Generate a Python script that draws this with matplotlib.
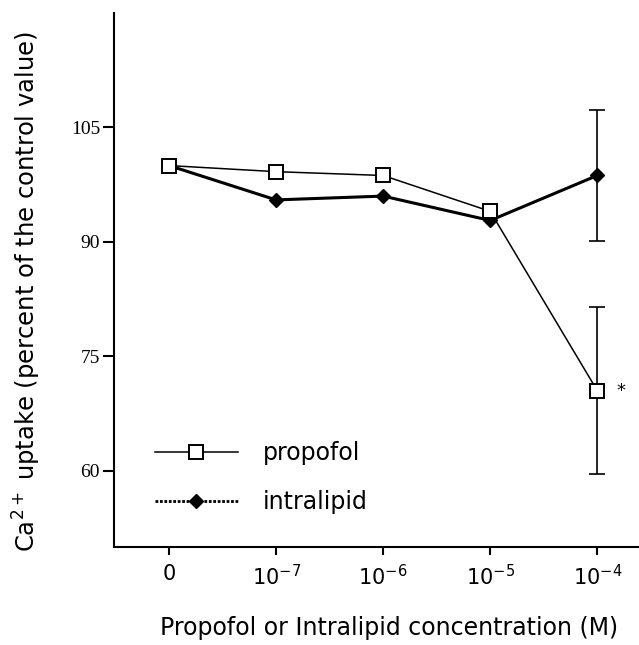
import matplotlib
matplotlib.use("Agg")
import matplotlib.pyplot as plt
from matplotlib.lines import Line2D

plt.rcParams['mathtext.fontset'] = 'custom'
plt.rcParams['mathtext.rm'] = 'DejaVu Sans'
plt.rcParams['mathtext.it'] = 'DejaVu Sans'

categories = ['0', r'$\mathregular{10^{-7}}$', r'$\mathregular{10^{-6}}$',
              r'$\mathregular{10^{-5}}$', r'$\mathregular{10^{-4}}$']
propofol = [100.0, 99.2, 98.7, 94.0, 70.5]
propofol_err = [0, 0, 0, 0, 10.9]
intralipid = [100.0, 95.5, 96.0, 92.8, 98.7]
intralipid_err = [0, 0, 0, 0, 8.6]
yticks = [60, 75, 90, 105]

x = list(range(len(categories)))

fig = plt.figure(figsize=(6.39, 6.45), dpi=100)
ax = fig.add_axes([114/639, 1 - 547/645, (639-114)/639, (547-13)/645])

# intralipid (thick line, black diamonds)
ax.errorbar(x[-1:], intralipid[-1:], yerr=intralipid_err[-1:], fmt='none',
            ecolor='black', elinewidth=1.2, capsize=5.5, capthick=1.2, zorder=2)
ax.plot(x, intralipid, color='black', lw=2.2, marker='D', ms=7.5,
        mfc='black', mec='black', zorder=3)

# propofol (thin line, open squares)
ax.errorbar(x[-1:], propofol[-1:], yerr=propofol_err[-1:], fmt='none',
            ecolor='black', elinewidth=1.2, capsize=5.5, capthick=1.2, zorder=2)
ax.plot(x, propofol, color='black', lw=1.1, marker='s', ms=10,
        mfc='white', mec='black', mew=1.4, zorder=4)

ax.text(x[-1] + 0.22, propofol[-1], '*', fontsize=13, ha='center', va='center',
        family='DejaVu Sans')

ax.set_xlim(-0.514, 4.39)
ax.set_ylim(50, 120)
ax.set_xticks(x)
ax.set_xticklabels(categories, family='DejaVu Sans', fontsize=15)
ax.set_yticks(yticks)
ax.set_yticklabels([str(v) for v in yticks], family='Liberation Serif', fontsize=14)

for s in ['top', 'right']:
    ax.spines[s].set_visible(False)
for s in ['left', 'bottom']:
    ax.spines[s].set_linewidth(1.5)
ax.tick_params(axis='y', length=8, width=1.5, pad=2)
ax.tick_params(axis='x', length=6, width=1.5, pad=6)

ax.set_xlabel('Propofol or Intralipid concentration (M)', family='DejaVu Sans',
              fontsize=17)
ax.xaxis.set_label_coords(0.523, -0.13)
ax.set_ylabel(r'Ca$^{2+}$ uptake (percent of the control value)',
              family='DejaVu Sans', fontsize=17.5)
ax.yaxis.set_label_coords(-0.136, 0.478)

handles = [
    Line2D([], [], color='black', lw=1.1, marker='s', ms=10, mfc='white',
           mec='black', mew=1.4),
    Line2D([], [], color='black', lw=2.0, ls=(0, (1, 0.6)), marker='D', ms=7.5,
           mfc='black', mec='black'),
]
ax.legend(handles, ['propofol', 'intralipid'], loc='center left',
          bbox_to_anchor=(0.078, 0.13), frameon=False, borderpad=0,
          borderaxespad=0, handlelength=3.5, handletextpad=1.06,
          labelspacing=1.05, prop={'family': 'DejaVu Sans', 'size': 17})

fig.savefig('out.png', dpi=100)
